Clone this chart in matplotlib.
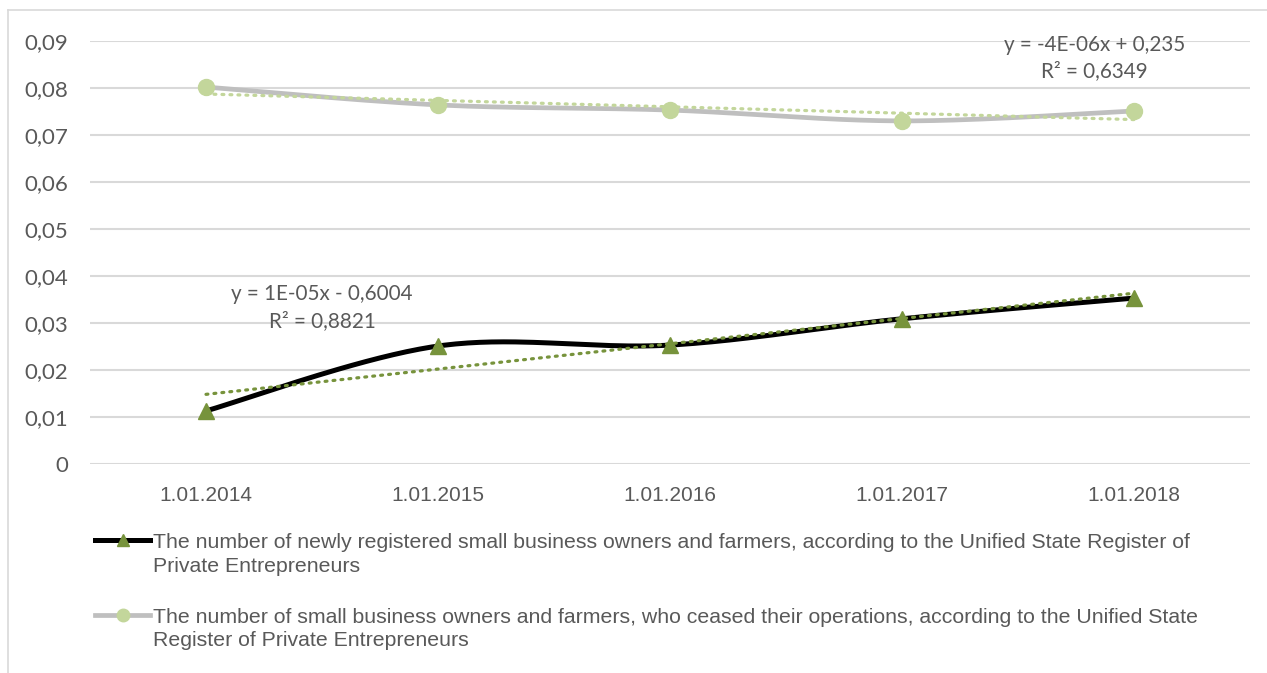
import numpy as np
import matplotlib
matplotlib.use("Agg")
import matplotlib.pyplot as plt
from matplotlib.lines import Line2D

categories = ["1.01.2014", "1.01.2015", "1.01.2016", "1.01.2017", "1.01.2018"]
new_registered = [0.0113, 0.0251, 0.0253, 0.0309, 0.0353]
ceased = [0.0802, 0.0764, 0.0753, 0.0730, 0.0751]
yticks = [0, 0.01, 0.02, 0.03, 0.04, 0.05, 0.06, 0.07, 0.08, 0.09]
ytick_labels = ["0", "0,01", "0,02", "0,03", "0,04", "0,05", "0,06", "0,07", "0,08", "0,09"]
label_new = ("The number of newly registered small business owners and farmers, according to the Unified State Register of\n"
             "Private Entrepreneurs")
label_ceased = ("The number of small business owners and farmers, who ceased their operations, according to the Unified State\n"
                "Register of Private Entrepreneurs")
eq_new = "y = 1E-05x - 0,6004\nR² = 0,8821"
eq_ceased = "y = -4E-06x + 0,235\nR² = 0,6349"

TXT = "#595959"
GRID = "#D9D9D9"


def smooth(xs, ys, n=40):
    xs = np.asarray(xs, float)
    ys = np.asarray(ys, float)
    P = np.column_stack([xs, ys])
    Pe = np.vstack([P[0], P, P[-1]])
    out = []
    for i in range(len(P) - 1):
        p0, p1, p2, p3 = Pe[i], Pe[i + 1], Pe[i + 2], Pe[i + 3]
        c1 = p1 + (p2 - p0) / 6
        c2 = p2 - (p3 - p1) / 6
        t = np.linspace(0, 1, n)[:, None]
        seg = (1 - t) ** 3 * p1 + 3 * (1 - t) ** 2 * t * c1 + 3 * (1 - t) * t ** 2 * c2 + t ** 3 * p2
        out.append(seg if i == 0 else seg[1:])
    s = np.vstack(out)
    return s[:, 0], s[:, 1]


fig = plt.figure(figsize=(12.67, 6.73), dpi=100)
ax = fig.add_axes([90 / 1267, 1 - 464 / 673, (1250 - 90) / 1267, (464 - 41) / 673])

x = np.arange(len(categories))

# outer frame
fig.add_artist(Line2D([8 / 1267, 8 / 1267], [0, 1 - 10 / 673], color=GRID, lw=1.2, transform=fig.transFigure))
fig.add_artist(Line2D([8 / 1267, 1], [1 - 10 / 673, 1 - 10 / 673], color=GRID, lw=1.2, transform=fig.transFigure))

# series
sx, sy = smooth(x, new_registered)
ax.plot(sx, sy, color="black", lw=3.6, solid_capstyle="round", zorder=3)
ax.plot(x, new_registered, ls="none", marker="^", ms=11, color="#77933C", zorder=4)
sx, sy = smooth(x, ceased)
ax.plot(sx, sy, color="#BFBFBF", lw=3.4, solid_capstyle="round", zorder=3)
ax.plot(x, ceased, ls="none", marker="o", ms=11.5, color="#C3D69B", zorder=4)

# trendlines
for vals, col in ((new_registered, "#77933C"), (ceased, "#C3D69B")):
    k, b = np.polyfit(x, vals, 1)
    ax.plot([x[0], x[-1]], [b + k * x[0], b + k * x[-1]], ls=(0, (0.6, 1.9)), lw=2.3,
            color=col, dash_capstyle="round", zorder=5)

# equations
ax.text(0.5, 0.0333, eq_new, ha="center", va="center", multialignment="center",
        fontsize=14.9, color=TXT, family="Lato", linespacing=1.4, zorder=6)
ax.text(3.83, 0.0863, eq_ceased, ha="center", va="center", multialignment="center",
        fontsize=14.9, color=TXT, family="Lato", linespacing=1.4, zorder=6)

ax.set_xlim(-0.5, 4.5)
ax.set_ylim(0, 0.09)
ax.set_yticks(yticks)
ax.set_yticklabels(ytick_labels, family="Lato", fontsize=16, color=TXT)
ax.set_xticks(x)
ax.set_xticklabels(categories, family="Liberation Sans", fontsize=15, color=TXT)
ax.tick_params(axis="both", length=0)
ax.tick_params(axis="y", pad=16)
ax.tick_params(axis="x", pad=16)
ax.grid(axis="y", color=GRID, lw=1.5)
ax.set_axisbelow(True)
for s in ax.spines.values():
    s.set_visible(False)

handles = [
    Line2D([], [], color="black", lw=3.6, marker="^", ms=9, mfc="#77933C", mec="#77933C"),
    Line2D([], [], color="#BFBFBF", lw=3.4, marker="o", ms=9, mfc="#C3D69B", mec="#C3D69B"),
]
leg = fig.legend(handles, [label_new, label_ceased], loc="upper left",
                 bbox_to_anchor=(95 / 1267, 1 - 533 / 673), frameon=False,
                 prop={"family": "Liberation Sans", "size": 15.3}, labelcolor=TXT,
                 handlelength=2.6, handletextpad=0.15, labelspacing=1.5, borderpad=0,
                 borderaxespad=0, numpoints=1)
for t in leg.get_texts():
    t.set_linespacing(1.32)
for col in leg._legend_handle_box.get_children():
    for hp in col.get_children():
        hp.align = "top"

fig.savefig("out.png", dpi=100)
